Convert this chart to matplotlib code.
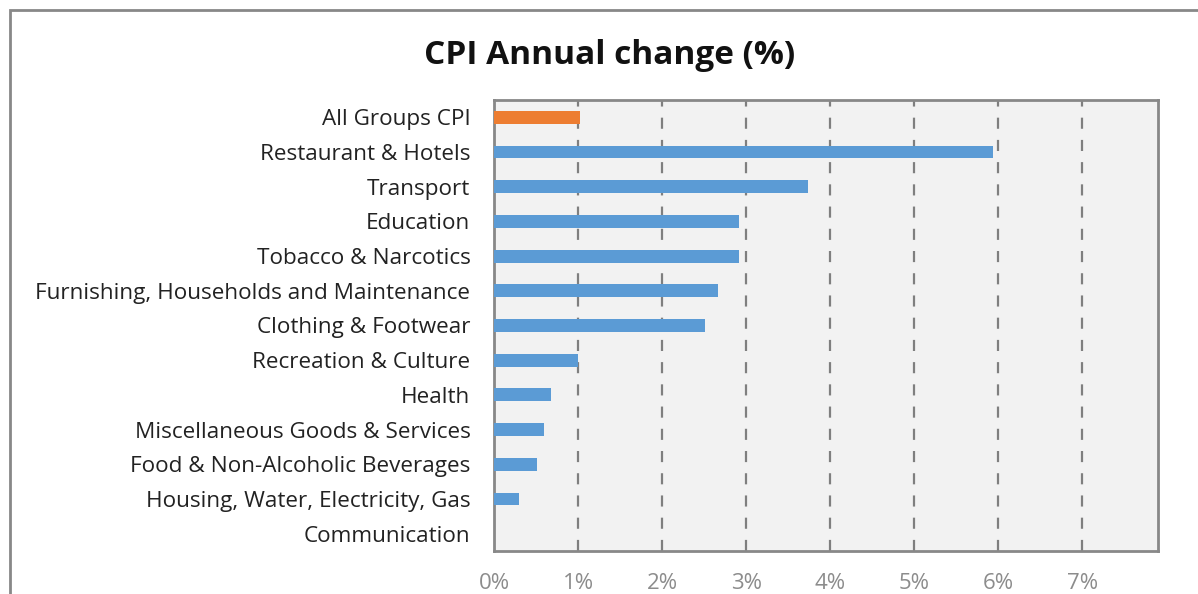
import matplotlib.pyplot as plt
from matplotlib.patches import Rectangle
from matplotlib.ticker import FuncFormatter

categories = ['All Groups CPI', 'Restaurant & Hotels', 'Transport', 'Education',
              'Tobacco & Narcotics', 'Furnishing, Households and Maintenance',
              'Clothing & Footwear', 'Recreation & Culture', 'Health',
              'Miscellaneous Goods & Services', 'Food & Non-Alcoholic Beverages',
              'Housing, Water, Electricity, Gas', 'Communication']
values = [1.02, 5.94, 3.73, 2.92, 2.92, 2.67, 2.51, 1.0, 0.68, 0.6, 0.51, 0.3, 0.0]
colors = ['#ed7d31'] + ['#5b9bd5'] * 12

plt.rcParams['font.family'] = ['Open Sans', 'DejaVu Sans']

fig = plt.figure(figsize=(11.98, 5.94), dpi=100)
ax = fig.add_axes([494 / 1198, 43 / 594, 664 / 1198, 451 / 594])

pos = list(range(len(categories)))
ax.barh(pos, values, height=0.37, color=colors, edgecolor='none', zorder=3)
ax.set_ylim(len(categories) - 0.5, -0.5)
ax.set_xlim(0, 7.9)
ax.set_xticks(range(0, 8))
ax.xaxis.set_major_formatter(FuncFormatter(lambda v, p: f'{v:.0f}%'))
ax.set_yticks(pos)
ax.set_yticklabels(categories)

ax.set_facecolor('#f2f2f2')
ax.grid(axis='x', linestyle=(0, (5, 5)), color='#7f7f7f', linewidth=1.6, zorder=1)
ax.grid(axis='y', visible=False)
for s in ax.spines.values():
    s.set_color('#888888')
    s.set_linewidth(2)
ax.tick_params(axis='both', length=0)
ax.tick_params(axis='y', labelsize=16.2, labelcolor='#222222', pad=17)
ax.tick_params(axis='x', labelsize=16, labelcolor='#8c8c8c', pad=16)

fig.text(610 / 1198, 1 - 55 / 594, 'CPI Annual change (%)', ha='center', va='center',
         fontsize=24, fontweight='bold', color='#111111')

# outer chart frame
fig.patches.append(Rectangle((10 / 1198, -0.1), 1.2, 1 - 10 / 594 + 0.1,
                             transform=fig.transFigure, fill=False,
                             edgecolor='#888888', linewidth=2))

fig.savefig('out.png', dpi=100)
